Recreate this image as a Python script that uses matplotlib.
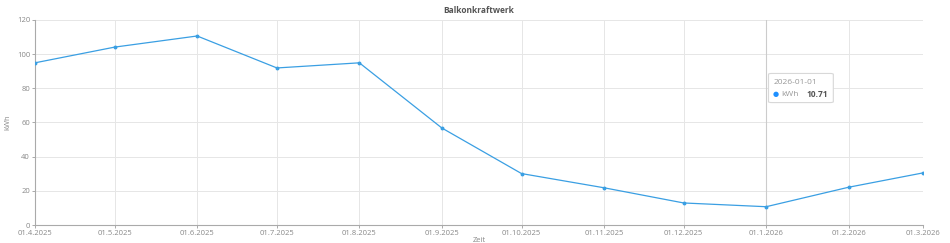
import numpy as np
import matplotlib
matplotlib.use("Agg")
import matplotlib.pyplot as plt
from matplotlib.patches import FancyBboxPatch

plt.rcParams['font.family'] = ['Open Sans', 'DejaVu Sans']

# data (monatlich, kWh)
dates = np.array(['2025-04-01', '2025-05-01', '2025-06-01', '2025-07-01',
                  '2025-08-01', '2025-09-01', '2025-10-01', '2025-11-01',
                  '2025-12-01', '2026-01-01', '2026-02-01', '2026-03-01'],
                 dtype='datetime64[D]')
kwh = [94.9, 104.1, 110.6, 91.9, 94.9, 56.8, 30.1, 21.8, 12.9, 10.71, 22.1, 30.5]
tick_labels = ['01.4.2025', '01.5.2025', '01.6.2025', '01.7.2025', '01.8.2025',
               '01.9.2025', '01.10.2025', '01.11.2025', '01.12.2025',
               '01.1.2026', '01.2.2026', '01.3.2026']
hover_idx = 9

fig = plt.figure(figsize=(9.5, 2.43), dpi=100)
ax = fig.add_axes([0.0368, 0.074, 0.9348, 0.844])

ax.plot(dates, kwh, color='#3a9fe3', lw=0.9, marker='o', ms=1.8, zorder=3)

ax.set_xlim(dates[0], dates[-1])
ax.set_ylim(0, 120)
ax.set_yticks(range(0, 121, 20))
ax.set_xticks(dates)
ax.set_xticklabels(tick_labels)

ax.grid(True, color='#e6e6e6', lw=0.7)
ax.set_axisbelow(True)
for s in ['top', 'right']:
    ax.spines[s].set_visible(False)
for s in ['left', 'bottom']:
    ax.spines[s].set_color('#aaaaaa')
    ax.spines[s].set_linewidth(0.8)
ax.tick_params(axis='both', colors='#aaaaaa', labelcolor='#888888',
               labelsize=5.5, length=2, width=0.7, pad=1.5)

# crosshair
ax.axvline(dates[hover_idx], color='#cccccc', lw=0.8, zorder=1)

ax.set_title('Balkonkraftwerk', fontsize=6, fontweight='bold', color='#555555', pad=5)
ax.set_xlabel('Zeit', fontsize=5.5, color='#888888', labelpad=0)
ax.set_ylabel('kWh', fontsize=5.5, color='#888888')
ax.yaxis.set_label_coords(-0.026, 0.5)

# tooltip
box = FancyBboxPatch((0.826, 0.597), 0.073, 0.142, transform=ax.transAxes,
                     boxstyle='round,pad=0,rounding_size=0.004',
                     fc='white', ec='#d8d8d8', lw=0.8, zorder=6)
ax.add_patch(box)
ax.text(0.832, 0.697, '2026-01-01', transform=ax.transAxes, fontsize=6,
        color='#999999', va='center', ha='left', zorder=7)
ax.text(0.831, 0.637, '\u25cf', transform=ax.transAxes, fontsize=5,
        color='#1e90ff', va='center', ha='left', zorder=7,
        family='DejaVu Sans')
ax.text(0.840, 0.637, 'kWh', transform=ax.transAxes, fontsize=6,
        color='#999999', va='center', ha='left', zorder=7)
ax.text(0.893, 0.637, f'{kwh[hover_idx]:.2f}', transform=ax.transAxes,
        fontsize=6, color='#555555', fontweight='bold', va='center',
        ha='right', zorder=7)

fig.savefig('out.png', dpi=100)
